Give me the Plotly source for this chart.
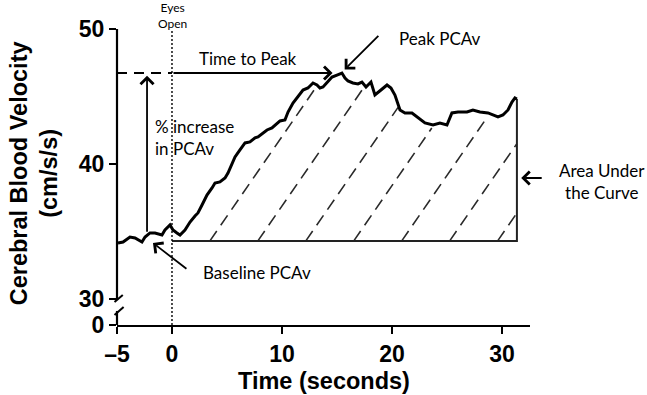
import numpy as np
import plotly.graph_objects as go

# ---------------- data ----------------
time_s = [-4.91, -4.45, -3.82, -3.36, -2.73, -2.45, -2.00, -1.55, -0.91, -0.64, -0.18,
          0.09, 0.45, 0.73, 1.18, 1.64, 2.09, 2.36, 2.73, 3.18, 3.64, 3.91, 4.36, 4.82,
          5.09, 5.45, 5.73, 6.18, 6.64, 7.09, 7.55, 7.82, 8.27, 8.64, 9.09, 9.36, 9.82,
          10.27, 10.55, 11.00, 11.45, 11.91, 12.36, 12.82, 13.18, 13.45, 13.73, 14.18,
          14.55, 15.00, 15.45, 15.73, 16.00, 16.45, 16.91, 17.27, 17.64, 18.09, 18.45,
          19.00, 19.55, 19.91, 20.27, 20.73, 21.18, 21.82, 22.36, 23.00, 23.73, 24.36,
          25.00, 25.45, 26.00, 26.82, 27.36, 28.00, 28.73, 29.18, 29.64, 30.09, 30.55,
          30.91, 31.18, 31.36]
cbv_cm_s = [34.15, 34.22, 34.59, 34.52, 34.22, 34.59, 34.89, 34.89, 34.74, 35.11, 35.48,
            35.11, 34.89, 34.74, 35.11, 35.70, 36.15, 36.37, 36.96, 37.70, 38.22, 38.59,
            38.67, 38.96, 39.33, 39.93, 40.52, 41.04, 41.56, 41.63, 41.93, 42.00, 42.30,
            42.52, 42.67, 42.89, 43.19, 43.26, 43.85, 44.52, 44.96, 45.48, 45.63, 46.00,
            45.85, 45.63, 45.70, 46.07, 46.44, 46.59, 46.74, 46.37, 46.15, 46.00, 45.93,
            46.07, 45.70, 46.07, 45.11, 45.48, 45.85, 45.63, 45.11, 44.00, 43.78, 43.78,
            43.41, 43.04, 42.89, 43.04, 42.89, 43.78, 43.85, 43.85, 44.00, 43.85, 43.78,
            43.63, 43.48, 43.63, 44.00, 44.59, 44.89, 44.81]
baseline_pcav = 34.3
eyes_open_time = 0
x_tickvals = [-5, 0, 10, 20, 30]
x_ticktext = ["\u20135", "0", "10", "20", "30"]
y_break_zero = 28.07          # position used for the "0" label below the axis break
y_tickvals = [y_break_zero, 30, 40, 50]
y_ticktext = ["0", "30", "40", "50"]

# ---------------- derived ----------------
t = np.array(time_s)
v = np.array(cbv_cm_s)
t_end, v_end = t[-1], v[-1]
i_pk = int(np.argmax(v))
t_peak, v_peak = t[i_pk], v[i_pk]

X_RANGE = [-5, 32.55]
Y_RANGE = [y_break_zero, 50]

SANS = "Liberation Sans"
LABEL = "Lato"

fig = go.Figure()

# hatch lines inside area under the curve
hatch_slope, hatch_gap, hatch_first = 1.18, 4.36, 3.45
ft = np.linspace(0, t_end, 4000)
fv = np.interp(ft, t, v)
for k in range(-1, 9):
    x0 = hatch_first + k * hatch_gap
    if x0 >= t_end:
        break
    st = max(x0, 0.0)
    sv = baseline_pcav + hatch_slope * (st - x0)
    if sv >= np.interp(st, t, v) - 0.2:
        continue
    lv = baseline_pcav + hatch_slope * (ft - x0)
    above = (ft >= st) & (lv >= fv - 0.25)
    et = ft[np.argmax(above)] if above.any() else t_end
    ev = baseline_pcav + hatch_slope * (et - x0)
    fig.add_trace(go.Scatter(x=[st, et], y=[sv, ev], mode="lines",
                             line=dict(color="#2a2a2a", width=1.6, dash="12px,7px"),
                             hoverinfo="skip", showlegend=False))

# AUC frame (baseline and right edge)
fig.add_trace(go.Scatter(x=[eyes_open_time, t_end, t_end],
                         y=[baseline_pcav, baseline_pcav, v_end], mode="lines",
                         line=dict(color="#222", width=2), hoverinfo="skip",
                         showlegend=False))

# main curve
fig.add_trace(go.Scatter(x=time_s, y=cbv_cm_s, mode="lines",
                         line=dict(color="black", width=3), showlegend=False))

shapes = []
# eyes-open dotted line
shapes.append(dict(type="line", xref="x", yref="y", x0=eyes_open_time, x1=eyes_open_time,
                   y0=y_break_zero, y1=50, line=dict(color="black", width=1.4, dash="2px,2px")))
# dashed peak level from y-axis to eyes-open
shapes.append(dict(type="line", xref="x", yref="y", x0=-5, x1=eyes_open_time,
                   y0=v_peak, y1=v_peak, line=dict(color="black", width=2, dash="10px,7px")))
# broken y axis
shapes.append(dict(type="line", xref="paper", yref="y", x0=0, x1=0, y0=29.93, y1=50,
                   line=dict(color="black", width=2.2)))
shapes.append(dict(type="line", xref="paper", yref="y", x0=0, x1=0, y0=y_break_zero, y1=29.11,
                   line=dict(color="black", width=2.2)))
shapes.append(dict(type="line", xref="paper", yref="y", x0=-0.006, x1=0.014, y0=29.78, y1=30.30,
                   line=dict(color="black", width=2)))
shapes.append(dict(type="line", xref="paper", yref="y", x0=-0.006, x1=0.016, y0=28.81, y1=29.41,
                   line=dict(color="black", width=2)))

annotations = []

def arrow(x, y, ax, ay):
    annotations.append(dict(x=x, y=y, ax=ax, ay=ay, xref="x", yref="y",
                            axref="x", ayref="y", text="", showarrow=True,
                            arrowhead=4, arrowsize=1.4, arrowwidth=1.8, arrowcolor="black"))

# time to peak arrow
arrow(t_peak - 0.85, v_peak, eyes_open_time, v_peak)
# % increase arrow
x_inc = -2.27
arrow(x_inc, v_peak - 0.2, x_inc, float(np.interp(x_inc, t, v)) + 0.15)
# peak arrow
arrow(15.7, 47.0, 18.9, 49.6)
# baseline arrow
arrow(-1.73, 34.15, 1.45, 32.15)
# AUC arrow
arrow(31.75, 38.96, 33.75, 38.96)

def label(text, x, y, xanchor="center", size=17, align="center", ref="x"):
    annotations.append(dict(x=x, y=y, xref=ref, yref=("y" if ref == "x" else "paper"),
                            text=text, showarrow=False,
                            xanchor=xanchor, yanchor="middle", align=align,
                            font=dict(family=LABEL, size=size, color="black")))

label("Time to Peak", 6.9, 47.8)
label("% increase<br>in PCAv", -1.7, 41.96, xanchor="left", align="left")
label("Peak PCAv", 24.4, 49.3)
label("Baseline PCAv", 7.7, 31.95)
label("Area Under<br>the Curve", 1.174, 0.486, ref="paper")
label("Eyes<br>Open", 0.1332, 1.046, size=12, ref="paper")

# axis titles
annotations.append(dict(x=-0.2, y=Y_RANGE[0] + 0.514 * (Y_RANGE[1] - Y_RANGE[0]), xref="paper", yref="y",
                        text="Cerebral Blood Velocity<br>(cm/s/s)", textangle=-90,
                        showarrow=False, xanchor="center", yanchor="middle",
                        font=dict(family=SANS, size=23.5, color="black", weight="bold")))
annotations.append(dict(x=0.5, y=-0.189, xref="paper", yref="paper", text="Time (seconds)",
                        showarrow=False, xanchor="center", yanchor="middle",
                        font=dict(family=SANS, size=23.5, color="black", weight="bold")))

fig.update_layout(
    width=647, height=395,
    margin=dict(l=117, r=117, t=29, b=70),
    paper_bgcolor="white", plot_bgcolor="white",
    shapes=shapes, annotations=annotations,
    xaxis=dict(range=X_RANGE, tickvals=x_tickvals, ticktext=x_ticktext,
               ticks="outside", ticklen=7, tickwidth=2, tickcolor="black",
               showline=True, linewidth=2.2, linecolor="black",
               showgrid=False, zeroline=False,
               tickfont=dict(family=SANS, size=23, color="black", weight="bold")),
    yaxis=dict(range=Y_RANGE, tickvals=y_tickvals, ticktext=y_ticktext,
               ticks="outside", ticklen=7, tickwidth=2, tickcolor="black",
               showline=False, showgrid=False, zeroline=False,
               tickfont=dict(family=SANS, size=23, color="black", weight="bold")),
)

fig.write_html("out.html")
